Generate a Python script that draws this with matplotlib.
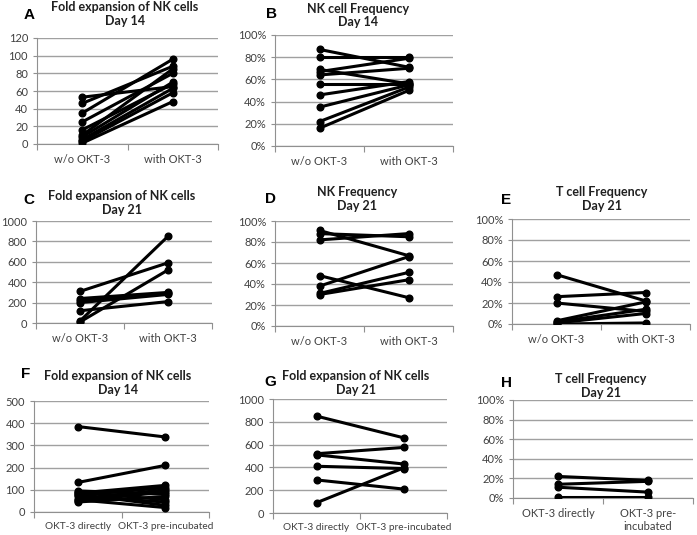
import matplotlib
matplotlib.use("Agg")
from matplotlib import pyplot as plt
from matplotlib.ticker import FuncFormatter

plt.rcParams['font.family'] = ['Lato', 'DejaVu Sans']

# ---- data ----
cat_okt = ["w/o OKT-3", "with OKT-3"]
cat_pre = ["OKT-3 directly", "OKT-3 pre-incubated"]
cat_pre_h = ["OKT-3 directly", "OKT-3 pre-\nincubated"]

a_left = [53, 46, 35, 25, 16, 10, 8, 5, 3, 1]
a_right = [65, 88, 96, 80, 68, 85, 70, 63, 58, 48]

b_left = [87, 80, 69, 67, 64, 56, 46, 35, 22, 16]
b_right = [71, 80, 56, 79, 70, 56, 58, 55, 53, 50]

c_left = [310, 240, 220, 200, 120, 20, 10]
c_right = [590, 300, 290, 280, 210, 850, 520]

d_left = [91, 88, 82, 48, 38, 31, 30]
d_right = [67, 85, 88, 27, 66, 51, 44]

e_left = [47, 26, 20, 3, 2, 1, 0]
e_right = [22, 30, 12, 21, 14, 10, 1]

f_left = [385, 133, 95, 90, 85, 80, 75, 70, 60, 55, 50, 45]
f_right = [338, 210, 80, 55, 120, 30, 110, 45, 100, 20, 90, 70]

g_left = [850, 520, 510, 410, 290, 90]
g_right = [660, 575, 430, 390, 210, 395]

h_left = [22, 14, 11, 1]
h_right = [18, 17, 6, 1]

W, H = 697, 535
fig = plt.figure(figsize=(W / 100, H / 100), dpi=100)


def panel(box, title_xy, letter_xy, letter, title, cats, left, right, ymax, step, pct=False,
          catsize=8):
    x0, x1, ytop, ybot = box
    ax = fig.add_axes([x0 / W, 1 - ybot / H, (x1 - x0) / W, (ybot - ytop) / H])
    for l, r in zip(left, right):
        ax.plot([0, 1], [l, r], color='black', lw=2.2, marker='o', ms=4.8, zorder=3)
    ax.set_xlim(-0.5, 1.5)
    ax.set_ylim(0, ymax)
    ax.set_yticks(list(range(0, ymax + 1, step)))
    if pct:
        ax.yaxis.set_major_formatter(FuncFormatter(lambda v, p: "%d%%" % v))
    ax.grid(axis='y', color='#a0a0a0', lw=1)
    ax.set_axisbelow(True)
    for s in ['top', 'right']:
        ax.spines[s].set_visible(False)
    for s in ['left', 'bottom']:
        ax.spines[s].set_color('#909090')
    ax.set_xticks([-0.5, 0.5, 1.5])
    ax.set_xticklabels([])
    ax.set_xticks([0, 1], minor=True)
    ax.set_xticklabels(cats, minor=True, fontsize=catsize, color='#404040')
    ax.tick_params(axis='x', which='major', length=4, color='#909090')
    ax.tick_params(axis='x', which='minor', length=0, pad=7)
    ax.tick_params(axis='y', length=3, color='#909090', labelsize=8, labelcolor='#404040')
    fig.text(title_xy[0] / W, 1 - title_xy[1] / H, title, ha='center', va='center',
             fontsize=9, fontweight='bold', color='#202020', linespacing=1.15)
    fig.text(letter_xy[0] / W, 1 - letter_xy[1] / H, letter, ha='left', va='center',
             fontsize=11, fontweight='bold', family='Liberation Sans')
    return ax


panel((37, 218, 38, 144), (125, 14), (24, 15), "A", "Fold expansion of NK cells\nDay 14",
      cat_okt, a_left, a_right, 120, 20)
panel((275, 453, 35, 146), (358, 15.5), (266, 14), "B", "NK cell Frequency\nDay 14",
      cat_okt, b_left, b_right, 100, 20, pct=True)
panel((36, 212, 221, 323), (122, 203), (23, 200), "C", "Fold expansion of NK cells\nDay 21",
      cat_okt, c_left, c_right, 1000, 200)
panel((275, 453, 221, 326), (357, 199), (265, 199), "D", "NK Frequency\nDay 21",
      cat_okt, d_left, d_right, 100, 20, pct=True)
panel((512, 690, 219, 324), (602, 199), (501, 200), "E", "T cell Frequency\nDay 21",
      cat_okt, e_left, e_right, 100, 20, pct=True)
panel((34, 209, 401, 512), (118, 383), (21, 374), "F", "Fold expansion of NK cells\nDay 14",
      cat_pre, f_left, f_right, 500, 100, catsize=7.3)
panel((273, 447, 399, 513), (356, 383), (264, 382), "G", "Fold expansion of NK cells\nDay 21",
      cat_pre, g_left, g_right, 1000, 200, catsize=7.3)
panel((513, 693, 400, 498), (601, 386), (501, 383), "H", "T cell Frequency\nDay 21",
      cat_pre_h, h_left, h_right, 100, 20, pct=True)

fig.savefig("out.png", dpi=100)
